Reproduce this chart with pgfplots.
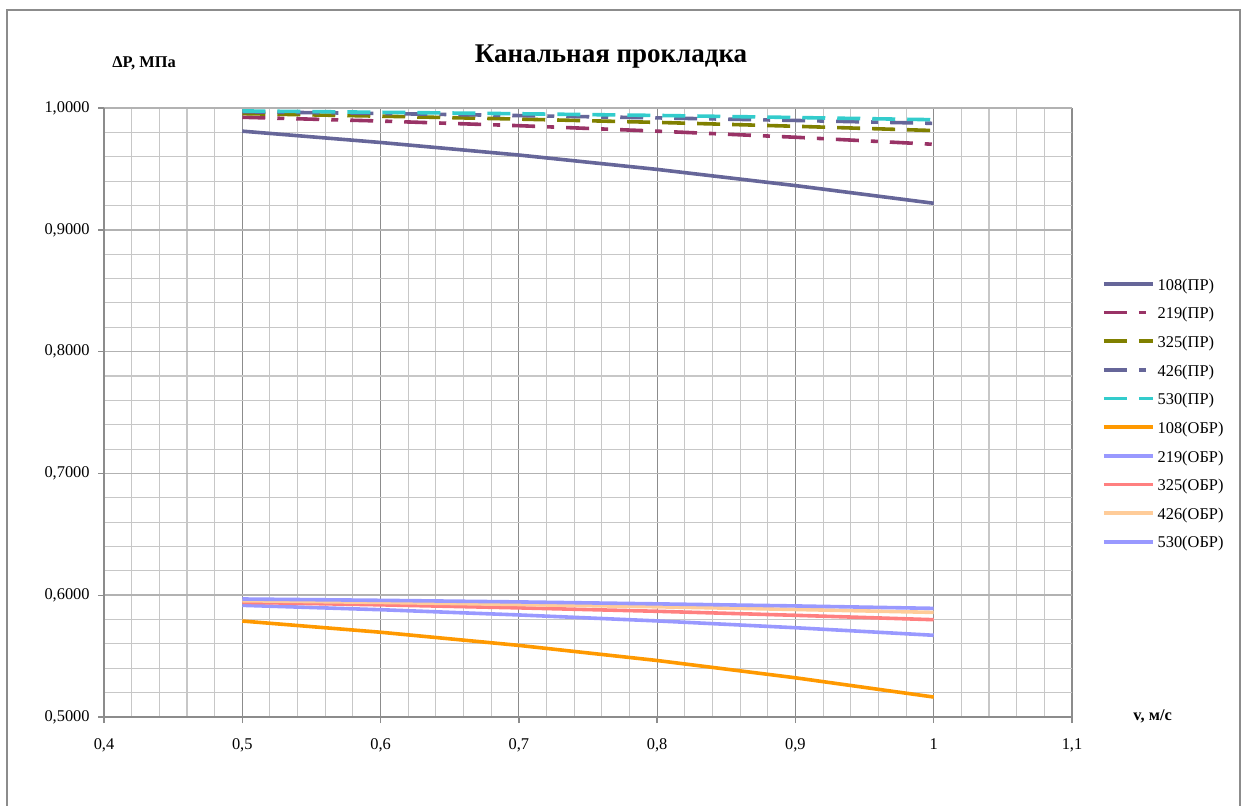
\documentclass[border=0pt]{standalone}
\usepackage{fontspec}
\setmainfont{Liberation Serif}
\usepackage{pgfplots}
\usepackage{pgfplotstable}
\pgfplotsset{compat=1.18}

\definecolor{cPRa}{RGB}{102,102,153}
\definecolor{cPRb}{RGB}{153,51,102}
\definecolor{cPRc}{RGB}{128,128,0}
\definecolor{cPRd}{RGB}{102,102,153}
\definecolor{cPRe}{RGB}{51,204,204}
\definecolor{cOBa}{RGB}{255,153,0}
\definecolor{cOBb}{RGB}{153,153,255}
\definecolor{cOBc}{RGB}{255,128,128}
\definecolor{cOBd}{RGB}{255,204,153}
\definecolor{cOBe}{RGB}{153,153,255}

% pressure at the end of the line vs. flow velocity, for each pipe diameter
\pgfplotstableread{
v    pa     pb     pc     pd     pe     oa     ob     oc     od     oe
0.5  0.9810 0.9924 0.9954 0.9969 0.9976 0.5788 0.5917 0.5942 0.5955 0.5969
0.6  0.9717 0.9893 0.9933 0.9955 0.9965 0.5696 0.5881 0.5921 0.5941 0.5958
0.7  0.9614 0.9855 0.9909 0.9938 0.9953 0.5588 0.5838 0.5896 0.5924 0.5945
0.8  0.9496 0.9810 0.9882 0.9919 0.9939 0.5464 0.5789 0.5868 0.5905 0.5929
0.9  0.9363 0.9760 0.9850 0.9898 0.9922 0.5322 0.5733 0.5835 0.5883 0.5912
1.0  0.9218 0.9702 0.9815 0.9874 0.9904 0.5164 0.5671 0.5799 0.5859 0.5892
}\data

\tikzset{
  longdash/.style={dash pattern=on 11.5pt off 6pt},
  longdashdot/.style={dash pattern=on 11.5pt off 6pt on 3.5pt off 6pt},
}

\begin{document}
\begin{tikzpicture}
\useasboundingbox (0,0) rectangle (624pt,-402.5pt);
\clip (0,0) rectangle (624pt,-402.5pt);
\draw[draw=black!45, line width=0.75pt] (3.5pt,-5pt) rectangle (620pt,-430pt);

\node[anchor=base, inner sep=0pt, font=\bfseries\fontsize{13.5}{16}\selectfont] at (305.5pt,-31pt) {Канальная прокладка};
\node[anchor=base west, inner sep=0pt, font=\bfseries\fontsize{8.2}{10}\selectfont] at (56pt,-33.8pt) {ΔP, МПа};
\node[anchor=base west, inner sep=0pt, font=\bfseries\fontsize{8.2}{10}\selectfont] at (566.5pt,-360pt) {v, м/с};

\begin{axis}[
  at={(52pt,-358.5pt)}, anchor=south west,
  scale only axis, width=484pt, height=304.5pt,
  xmin=0.4, xmax=1.1, ymin=0.5, ymax=1.0,
  xtick={0.4,0.5,0.6,0.7,0.8,0.9,1.0,1.1},
  xticklabels={{0,4},{0,5},{0,6},{0,7},{0,8},{0,9},{1},{1,1}},
  ytick={0.5,0.6,0.7,0.8,0.9,1.0},
  yticklabels={{0,5000},{0,6000},{0,7000},{0,8000},{0,9000},{1,0000}},
  minor xtick={0.42,0.44,0.46,0.48,0.52,0.54,0.56,0.58,0.62,0.64,0.66,0.68,
    0.72,0.74,0.76,0.78,0.82,0.84,0.86,0.88,0.92,0.94,0.96,0.98,
    1.02,1.04,1.06,1.08},
  minor ytick={0.52,0.54,0.56,0.58,0.62,0.64,0.66,0.68,0.72,0.74,0.76,0.78,
    0.82,0.84,0.86,0.88,0.92,0.94,0.96,0.98},
  grid=both,
  major x grid style={draw=black!45, line width=0.6pt},
  major y grid style={draw=black!30, line width=0.8pt},
  minor grid style={draw=black!22, line width=0.55pt},
  axis x line*=bottom, axis y line*=left,
  axis line style={draw=black!45, line width=0.7pt},
  tick align=outside, major tick length=3pt, minor tick length=0pt,
  tick style={draw=black!45, line width=0.7pt},
  ticklabel style={font=\fontsize{8.2}{10}\selectfont, inner sep=0pt},
  xticklabel style={anchor=north, yshift=-7.5pt},
  yticklabel style={anchor=east, xshift=-4pt},
  legend style={at={(1.0310,0.4959)}, anchor=west, draw=none, fill=none,
    inner sep=0pt, outer sep=0pt, row sep=7.13pt, column sep=1.5pt,
    nodes={inner sep=0pt, text height=5.6pt, text depth=1.6pt,
      font=\fontsize{8.2}{10}\selectfont}},
  legend cell align=left,
  legend image code/.code={\draw[#1] (0pt,1.1pt) -- (24.5pt,1.1pt);},
  every axis plot/.append style={line width=1.8pt},
]
\addplot[cPRa, no marks] table[x=v, y=pa] {\data};
\addlegendentry{108(ПР)}
\addplot[cPRb, no marks, longdashdot] table[x=v, y=pb] {\data};
\addlegendentry{219(ПР)}
\addplot[cPRc, no marks, longdash] table[x=v, y=pc] {\data};
\addlegendentry{325(ПР)}
\addplot[cPRd, no marks, longdashdot] table[x=v, y=pd] {\data};
\addlegendentry{426(ПР)}
\addplot[cPRe, no marks, longdash] table[x=v, y=pe] {\data};
\addlegendentry{530(ПР)}
\addplot[cOBa, no marks] table[x=v, y=oa] {\data};
\addlegendentry{108(ОБР)}
\addplot[cOBb, no marks] table[x=v, y=ob] {\data};
\addlegendentry{219(ОБР)}
\addplot[cOBc, no marks] table[x=v, y=oc] {\data};
\addlegendentry{325(ОБР)}
\addplot[cOBd, no marks] table[x=v, y=od] {\data};
\addlegendentry{426(ОБР)}
\addplot[cOBe, no marks] table[x=v, y=oe] {\data};
\addlegendentry{530(ОБР)}
\end{axis}
\end{tikzpicture}
\end{document}
